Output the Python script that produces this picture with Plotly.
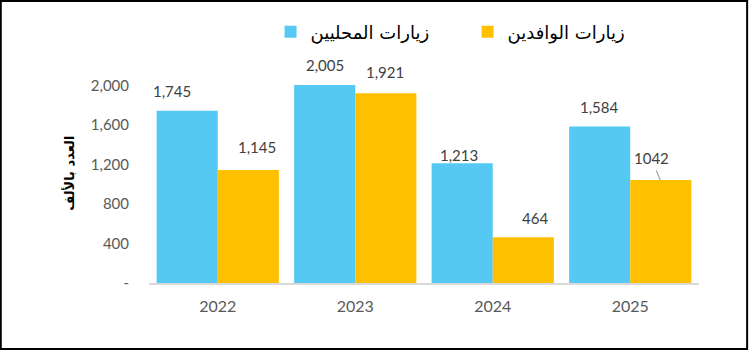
import plotly.graph_objects as go

# ---- data ----
years = ["2022", "2023", "2024", "2025"]
local_visits = [1745, 2005, 1213, 1584]
foreign_visits = [1145, 1921, 464, 1042]
local_labels = ["1,745", "2,005", "1,213", "1,584"]
foreign_labels = ["1,145", "1,921", "464", "1042"]
local_name = "زيارات المحليين"
foreign_name = "زيارات الوافدين"
y_title = "العدد بالألف"
y_tickvals = [0, 400, 800, 1200, 1600, 2000]
y_ticktext = ["-", "400", "800", "1,200", "1,600", "2,000"]

# ---- styles ----
BLUE = "#55C8F3"
ORANGE = "#FFC000"
FONT = "Lato, DejaVu Sans, sans-serif"
AR_FONT = "DejaVu Sans, sans-serif"
# label offsets (px) relative to category centre / bar top
local_off = [(-46, 20), (-30, 20), (-34, 8), (-31, 20)]
foreign_off = [(39, 23), (30, 21), (42, 19), (21, 22)]

fig = go.Figure()
fig.add_trace(go.Bar(x=years, y=local_visits, name=local_name,
                     marker=dict(color=BLUE, line=dict(width=0))))
fig.add_trace(go.Bar(x=years, y=foreign_visits, name=foreign_name,
                     marker=dict(color=ORANGE, line=dict(width=0))))

annotations = []
for i, (v, t, (dx, dy)) in enumerate(zip(local_visits, local_labels, local_off)):
    annotations.append(dict(x=i, y=v, text=t, showarrow=False, xshift=dx, yshift=dy,
                            font=dict(family=FONT, size=15, color="#404040"),
                            xanchor="center", yanchor="middle"))
for i, (v, t, (dx, dy)) in enumerate(zip(foreign_visits, foreign_labels, foreign_off)):
    if i == 3:
        annotations.append(dict(x=i, y=v, text=t, showarrow=True, xshift=30,
                                ax=dx - 30, ay=-dy, arrowhead=0, arrowwidth=1.2,
                                arrowcolor="#A6A6A6", standoff=0, startstandoff=2,
                                font=dict(family=FONT, size=15, color="#404040")))
    else:
        annotations.append(dict(x=i, y=v, text=t, showarrow=False, xshift=dx, yshift=dy,
                                font=dict(family=FONT, size=15, color="#404040"),
                                xanchor="center", yanchor="middle"))
annotations.append(dict(x=-0.147, y=0.45, xref="paper", yref="paper", text="<b>" + y_title + "</b>",
                        textangle=-90, showarrow=False,
                        font=dict(family=AR_FONT, size=13, color="black"),
                        xanchor="center", yanchor="middle"))

shapes = [
    dict(type="rect", xref="paper", yref="paper", x0=-0.2695, x1=1.0875, y0=-0.2716, y1=1.1605,
         line=dict(color="black", width=2), fillcolor="rgba(0,0,0,0)", layer="above"),
]

fig.update_layout(
    width=749, height=352,
    margin=dict(l=149, r=50, t=40, b=69),
    paper_bgcolor="white", plot_bgcolor="white",
    barmode="group", bargap=0.111, bargroupgap=0,
    showlegend=True,
    legend=dict(orientation="h", x=0.221, y=1.033, xanchor="left", yanchor="middle",
                font=dict(family=AR_FONT, size=18, color="black"),
                itemwidth=30, entrywidth=152, traceorder="normal",
                bgcolor="rgba(0,0,0,0)"),
    annotations=annotations,
    shapes=shapes,
    xaxis=dict(type="category", range=[-0.5, 3.5], showline=True, linecolor="#D9D9D9", linewidth=1.5,
               showgrid=False, zeroline=False, ticks="outside", ticklen=8, tickcolor="white",
               tickfont=dict(family=FONT, size=16, color="#595959")),
    yaxis=dict(range=[0, 2460], tickvals=y_tickvals, ticktext=y_ticktext,
               showline=False, showgrid=False, zeroline=False,
               ticks="outside", ticklen=16, tickcolor="white",
               tickfont=dict(family=FONT, size=15, color="#595959")),
)

fig.write_html("out.html")
